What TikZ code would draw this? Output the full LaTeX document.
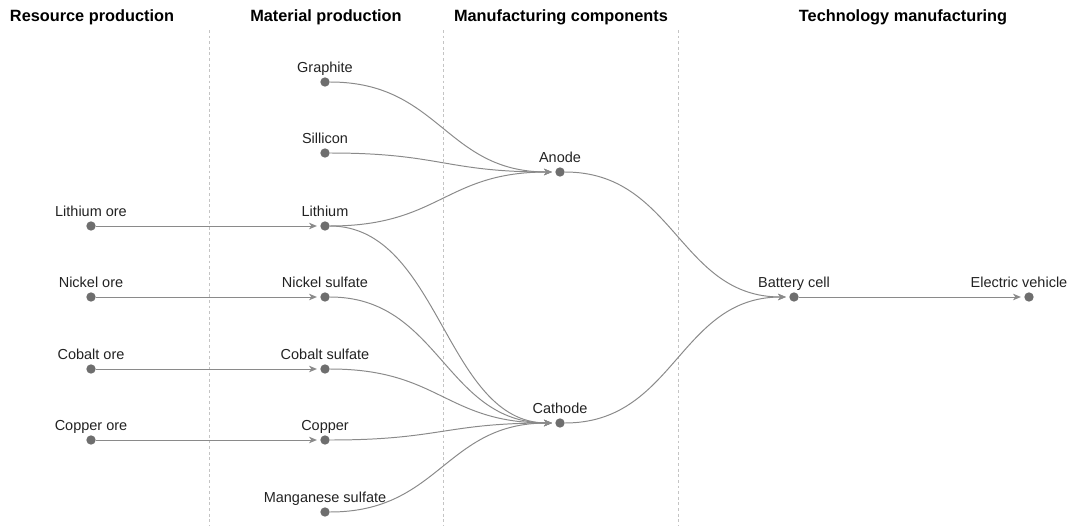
\documentclass[tikz,border=0pt]{standalone}
\usepackage{fontspec}
\setmainfont{Liberation Sans}
\usetikzlibrary{arrows.meta}
\definecolor{linegray}{HTML}{8A8A8A}
\definecolor{dotgray}{HTML}{6E6E6E}
\definecolor{sepgray}{HTML}{C4C4C4}
\definecolor{textgray}{HTML}{222222}
\tikzset{
  dot/.style={circle,fill=dotgray,inner sep=0pt,minimum size=9.5pt*0.7,
    label distance=-1.4pt},
  lbl/.style={font=\fontsize{10.3}{12}\selectfont,text=textgray,text depth=0pt},
  head/.style={font=\fontsize{11.6}{13}\selectfont\bfseries},
  flow/.style={draw=linegray,line width=0.7pt,
    -{Stealth[length=5.6pt,width=4.6pt,inset=1.6pt]},shorten >=2.2pt},
  sep/.style={draw=sepgray,line width=0.6pt,dash pattern=on 2pt off 2pt}
}
\begin{document}
\begin{tikzpicture}
  [x=0.025cm,y=-0.025cm]
  \useasboundingbox (0,0) rectangle (1081,526);

  % column headers
  \node[head] (hres) at (92,17)  {Resource production};
  \node[head] (hmat) at (326,17) {Material production};
  \node[head] (hman) at (561,17) {Manufacturing components};
  \node[head] (htec) at (903,17) {Technology manufacturing};

  % separators
  \draw[sep] (209,30) -- (209,526);
  \draw[sep] (443,30) -- (443,526);
  \draw[sep] (678,30) -- (678,526);

  % resources
  \node[dot,label={[lbl]above:Lithium ore}] (liore) at (91,226) {};
  \node[dot,label={[lbl]above:Nickel ore}]  (niore) at (91,297) {};
  \node[dot,label={[lbl]above:Cobalt ore}]  (coore) at (91,369) {};
  \node[dot,label={[lbl]above:Copper ore}]  (cuore) at (91,440) {};

  % materials
  \node[dot,label={[lbl]above:Graphite}]          (grap) at (325,82)  {};
  \node[dot,label={[lbl]above:Sillicon}]          (sil)  at (325,153) {};
  \node[dot,label={[lbl]above:Lithium}]           (li)   at (325,226) {};
  \node[dot,label={[lbl]above:Nickel sulfate}]    (ni)   at (325,297) {};
  \node[dot,label={[lbl]above:Cobalt sulfate}]    (co)   at (325,369) {};
  \node[dot,label={[lbl]above:Copper}]            (cu)   at (325,440) {};
  \node[dot,label={[lbl]above:Manganese sulfate}] (mn)   at (325,512) {};

  % components
  \node[dot,label={[lbl]above:Anode}]   (anode) at (560,172) {};
  \node[dot,label={[lbl]above:Cathode}] (cath)  at (560,423) {};

  % technology
  \node[dot,label={[lbl]above:Battery cell}] (cell) at (794,297)  {};
  \node[dot,label={[lbl,xshift=-10*0.025cm]above:Electric vehicle}] (ev) at (1029,297) {};

  \draw[flow] (liore) -- (li);
  \draw[flow] (niore) -- (ni);
  \draw[flow] (coore) -- (co);
  \draw[flow] (cuore) -- (cu);

  \draw[flow] (grap) .. controls +(115,0) and +(-115,0) .. (anode);
  \draw[flow] (sil)  .. controls +(115,0) and +(-115,0) .. (anode);
  \draw[flow] (li)   .. controls +(115,0) and +(-115,0) .. (anode);

  \draw[flow] (li) .. controls +(115,0) and +(-115,0) .. (cath);
  \draw[flow] (ni) .. controls +(115,0) and +(-115,0) .. (cath);
  \draw[flow] (co) .. controls +(115,0) and +(-115,0) .. (cath);
  \draw[flow] (cu) .. controls +(115,0) and +(-115,0) .. (cath);
  \draw[flow] (mn) .. controls +(115,0) and +(-115,0) .. (cath);

  \draw[flow] (anode) .. controls +(115,0) and +(-115,0) .. (cell);
  \draw[flow] (cath)  .. controls +(115,0) and +(-115,0) .. (cell);
  \draw[flow] (cell) -- (ev);

\end{tikzpicture}
\end{document}
